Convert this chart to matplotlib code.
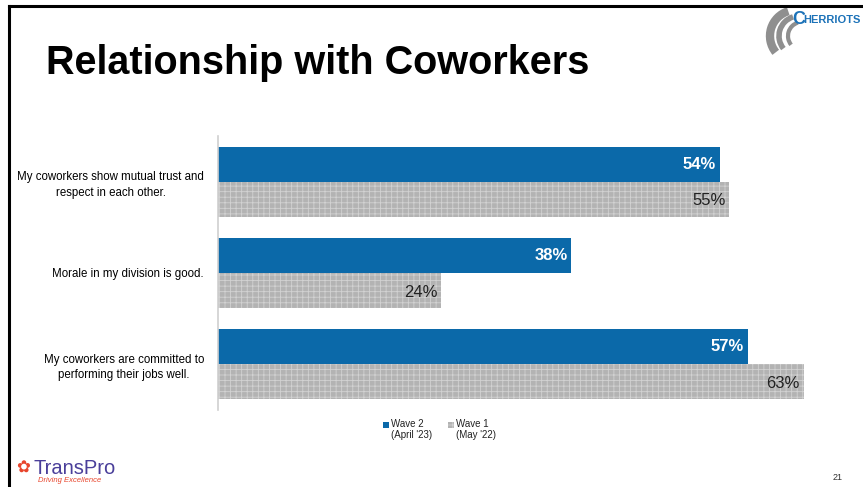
import matplotlib
matplotlib.use("Agg")
import matplotlib.pyplot as plt
from matplotlib.patches import Rectangle, Arc
import numpy as np

plt.rcParams['font.family'] = ['Liberation Sans', 'DejaVu Sans']
plt.rcParams['hatch.linewidth'] = 0.6

categories = [
    "My coworkers show mutual trust and\nrespect in each other.",
    "Morale in my division is good.",
    "My coworkers are committed to\nperforming their jobs well.",
]
wave2 = [54, 38, 57]
wave1 = [55, 24, 63]
series_labels = ["Wave 2\n(April '23)", "Wave 1\n(May '22)"]

BLUE = "#0b69a9"
GRAY = "#b3b3b3"

fig = plt.figure(figsize=(8.63, 4.87), dpi=100)

# slide frame (top and left edges)
fig.add_artist(plt.Line2D([9 / 863, 1], [1 - 5.5 / 487, 1 - 5.5 / 487], color="black", lw=2.2))
fig.add_artist(plt.Line2D([9 / 863, 9 / 863], [0, 1 - 5.5 / 487], color="black", lw=2.2))

ax = fig.add_axes([218 / 863, 1 - 410 / 487, 632 / 863, 274 / 487])
y = np.arange(len(categories))
h = 0.383
ax.barh(y - h / 2, wave2, height=h, color=BLUE, edgecolor="none")
ax.barh(y + h / 2, wave1, height=h, color=GRAY, edgecolor="#d2d2d2",
        hatch="+++", linewidth=0)

for yi, v in zip(y, wave2):
    ax.text(v - 0.4, yi - h / 2, f"{v}%", ha="right", va="center",
            color="white", fontweight="bold", fontsize=12)
for yi, v in zip(y, wave1):
    ax.text(v - 0.4, yi + h / 2 + 0.02, f"{v}%", ha="right", va="center",
            color="#222222", fontsize=12)

ax.set_xlim(0, 68)
ax.set_ylim(2.5, -0.5)
ax.set_yticks(y)
ax.set_yticklabels(categories, fontsize=8.3, multialignment="center",
                   linespacing=1.4)
ax.tick_params(axis="y", length=0, pad=10)
ax.set_xticks([])
for s in ["top", "right", "bottom"]:
    ax.spines[s].set_visible(False)
ax.spines["left"].set_color("#d0d0d0")
ax.spines["left"].set_linewidth(1.2)

# title
fig.text(46 / 863, 1 - 63 / 487, "Relationship with Coworkers", fontsize=28.5,
         fontweight="bold", ha="left", va="center", color="black")

# legend
def legend_entry(x_px, color, label, hatch=None):
    fig.add_artist(Rectangle((x_px / 863, 1 - 428 / 487), 6 / 863, 6 / 487,
                             transform=fig.transFigure, facecolor=color,
                             edgecolor="#d2d2d2" if hatch else "none",
                             hatch=hatch, linewidth=0))
    fig.text((x_px + 8) / 863, 1 - 419 / 487, label, fontsize=7, ha="left",
             va="top", color="#222222", linespacing=1.15)

legend_entry(383, BLUE, series_labels[0])
legend_entry(448, GRAY, series_labels[1], hatch="+++")

# Cherriots mark
for r, lw, cx in [(26, 6, 796), (20, 4, 799), (14, 3, 802)]:
    fig.add_artist(Arc((cx / 863, 1 - 36 / 487), 2 * r / 863, 2 * r / 487,
                       theta1=100, theta2=235, transform=fig.transFigure,
                       color="#8f8f8f", lw=lw))
fig.text(792 / 863, 1 - 20 / 487, "C", fontsize=13, fontweight="bold",
         color="#1c72b8", ha="left", va="center")
fig.text(803 / 863, 1 - 20 / 487, "HERRIOTS", fontsize=8, fontweight="bold",
         color="#1c72b8", ha="left", va="center")

# TransPro mark
fig.text(16 / 863, 1 - 468 / 487, "\u273f", fontsize=12, color="#e8452c",
         ha="left", va="center", family=["DejaVu Sans"])
fig.text(33 / 863, 1 - 468 / 487, "TransPro", fontsize=14.5, color="#4a3f9a",
         ha="left", va="center")
fig.text(38 / 863, 1 - 481 / 487, "Driving Excellence", fontsize=5.5,
         color="#e8452c", style="italic", ha="left", va="center")

# page number
fig.text(838 / 863, 1 - 478 / 487, "21", fontsize=6.5, color="#333333",
         ha="center", va="center")

fig.savefig("out.png", dpi=100)
